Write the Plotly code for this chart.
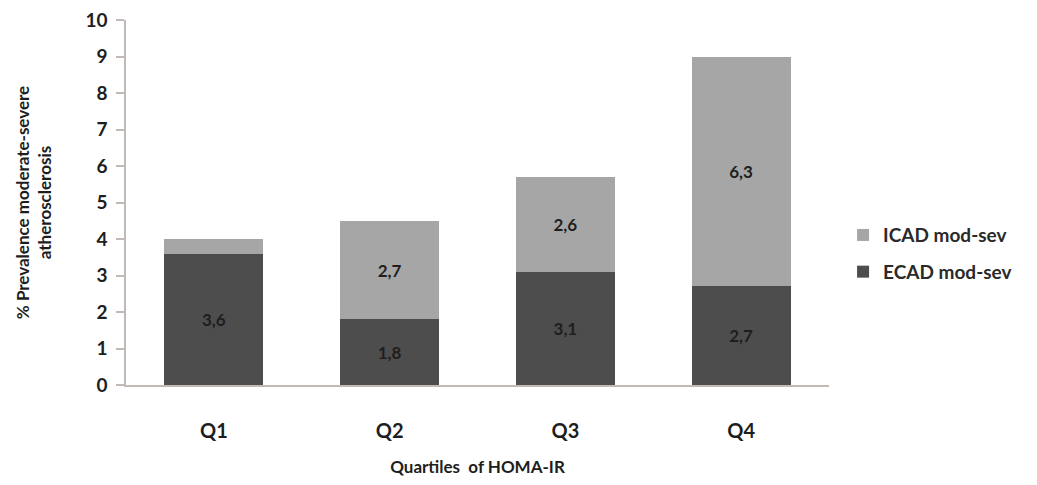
import plotly.graph_objects as go

categories = ["Q1", "Q2", "Q3", "Q4"]
ecad = [3.6, 1.8, 3.1, 2.7]
icad = [0.4, 2.7, 2.6, 6.3]
ecad_labels = ["3,6", "1,8", "3,1", "2,7"]
icad_labels = ["", "2,7", "2,6", "6,3"]
y_ticks = list(range(0, 11))

FONT = "Lato"
TXT = "#1e1e1e"

fig = go.Figure()
fig.add_trace(go.Bar(
    x=categories, y=ecad, name="ECAD mod-sev", legendgroup="e", legendrank=2,
    marker=dict(color="#4d4d4d", line=dict(width=0)),
    text=ecad_labels, textposition="inside", insidetextanchor="middle",
    textfont=dict(family=FONT, size=17, color=TXT, weight="bold"),
    textangle=0,
))
fig.add_trace(go.Bar(
    x=categories, y=icad, name="ICAD mod-sev", legendgroup="i", legendrank=1,
    marker=dict(color="#a6a6a6", line=dict(width=0)),
    text=icad_labels, textposition="inside", insidetextanchor="middle",
    textfont=dict(family=FONT, size=17, color=TXT, weight="bold"),
    textangle=0,
))

fig.update_layout(
    barmode="stack",
    bargap=0.437,
    width=1021, height=469,
    margin=dict(l=118, r=192, t=12, b=92),
    paper_bgcolor="white", plot_bgcolor="white",
    font=dict(family=FONT, color=TXT),
    uniformtext=dict(mode=False),
    legend=dict(
        traceorder="grouped",
        x=1.02, y=0.36, xanchor="left", yanchor="middle",
        font=dict(family=FONT, size=19, color="#2a2a2a", weight="bold"),
        itemwidth=30, tracegroupgap=9,
    ),
    showlegend=True,
)
fig.update_xaxes(
    showline=True, linecolor="#c2bab6", linewidth=1.5,
    ticks="", showgrid=False,
    tickfont=dict(family=FONT, size=20, color=TXT, weight="bold"),
    ticklabelstandoff=27,
    title=dict(text="Quartiles  of HOMA-IR", standoff=23,
               font=dict(family=FONT, size=17, color=TXT, weight="bold")),
    automargin=False,
)
fig.update_yaxes(
    range=[0, 10], tickvals=y_ticks,
    showline=True, linecolor="#c2bab6", linewidth=1.5,
    ticks="outside", ticklen=8, tickcolor="#c2bab6", tickwidth=1.5,
    showgrid=False, zeroline=False,
    ticklabeloverflow="allow", ticklabelstandoff=5,
    tickfont=dict(family=FONT, size=19, color=TXT, weight="bold"),
    title=dict(text="% Prevalence moderate-severe<br>atherosclerosis", standoff=29,
               font=dict(family=FONT, size=17, color=TXT, weight="bold")),
    automargin=False,
)

fig.write_html("out.html")
